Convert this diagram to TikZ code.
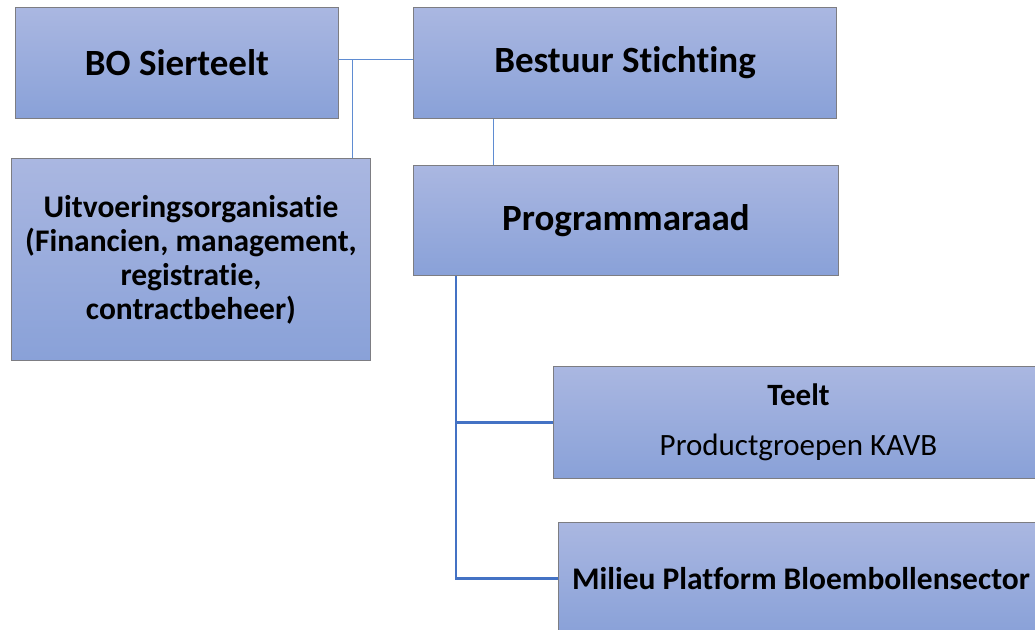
\documentclass[tikz,border=0pt]{standalone}
\usepackage{fontspec}
\setmainfont{Carlito}[RawFeature={-liga;-clig;-calt;-dlig}]
\usepackage{xcolor}
\usepackage{tikz}
\usetikzlibrary{calc}

\definecolor{boxtop}{RGB}{170,183,225}
\definecolor{boxbot}{RGB}{137,161,216}
\definecolor{boxline}{RGB}{125,125,130}
\definecolor{linklight}{RGB}{95,140,210}
\definecolor{linkdark}{RGB}{68,114,196}

\begin{document}
\begin{tikzpicture}[x=1pt,y=-1pt,
		orgbox/.style={draw=boxline,line width=1pt,top color=boxtop,bottom color=boxbot,
			anchor=north west,inner sep=0pt,align=center},
		big/.style={font=\fontsize{37}{44}\selectfont\bfseries},
		mid/.style={font=\fontsize{31.5}{34}\selectfont\bfseries},
		thinlink/.style={draw=linklight,line width=1pt},
		thicklink/.style={draw=linkdark,line width=2.6pt}]
		\useasboundingbox (0,0) rectangle (1035,629);
		\clip (0,0) rectangle (1035,629);
		
		\node[orgbox,big,minimum width=323pt,minimum height=111pt] (bo) at (15,7) {BO Sierteelt};
		\node[orgbox,big,minimum width=423pt,minimum height=111pt] (bestuur) at (413,7) {Bestuur Stichting};
		\node[orgbox,mid,minimum width=359pt,minimum height=202pt] (uitv) at (11,158) {Uitvoeringsorganisatie\\(Financien, management,\\registratie,\\contractbeheer)};
		\node[orgbox,big,minimum width=425pt,minimum height=110pt] (prog) at (413,165) {Programmaraad};
		\node[orgbox,font=\fontsize{31}{50}\selectfont,minimum width=490pt,minimum height=112pt] (teelt) at (553,366) {\raisebox{-3pt}{\textbf{Teelt}}\\[3pt]Productgroepen KAVB};
		\node[orgbox,mid,minimum width=485pt,minimum height=112pt] (milieu) at (558,522) {Milieu Platform Bloembollensector};
		
		\coordinate (split) at ($(bo.east)+(13pt,3.5pt)$);
		\draw[thinlink] ([yshift=3.5pt]bo.east) -- ([yshift=3.5pt]bestuur.west);
		\draw[thinlink] (split) -- (split |- uitv.north);
		\draw[thinlink] ([xshift=80pt]bestuur.south west) -- ([xshift=80pt]prog.north west);
		
		\draw[thicklink] ([xshift=43pt]prog.south west) |- (teelt.west);
		\draw[thicklink] ([xshift=43pt]prog.south west) |- (milieu.west);
		
	\end{tikzpicture}
\end{document}
